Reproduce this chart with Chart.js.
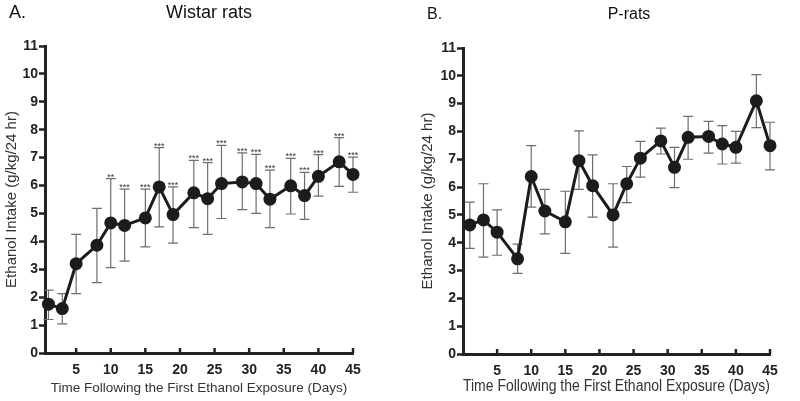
<!DOCTYPE html>
<html>
<head>
<meta charset="utf-8">
<title>Ethanol intake</title>
<script src="https://cdn.jsdelivr.net/npm/chart.js@4"></script>
<style>
  body { margin: 0; background: #fff; }
  #wrap { position: relative; width: 800px; height: 401px; }
  canvas { position: absolute; top: 0; }
</style>
</head>
<body>
<div id="wrap">
  <canvas id="chartA" width="400" height="401" style="left:0"></canvas>
  <canvas id="chartB" width="400" height="401" style="left:400px"></canvas>
</div>
<script>
// days on which intake was measured (same for both groups)
const days = [1, 3, 5, 8, 10, 12, 15, 17, 19, 22, 24, 26, 29, 31, 33, 36, 38, 40, 43, 45];

// Wistar rats
const wistarMean  = [1.75, 1.59, 3.20, 3.86, 4.66, 4.57, 4.84, 5.95, 4.96, 5.74, 5.53, 6.07, 6.13, 6.07, 5.51, 5.99, 5.64, 6.33, 6.85, 6.40];
const wistarUpper = [2.25, 2.13, 4.25, 5.18, 6.25, 5.87, 5.87, 7.36, 5.95, 6.90, 6.82, 7.44, 7.17, 7.12, 6.55, 6.97, 6.47, 7.11, 7.72, 7.02];
const wistarLower = [1.20, 1.04, 2.13, 2.52, 3.06, 3.29, 3.80, 4.52, 3.94, 4.49, 4.25, 4.82, 5.14, 5.00, 4.49, 4.98, 4.79, 5.62, 5.97, 5.76];
const wistarStars = ['', '', '', '', '**', '***', '***', '***', '***', '***', '***', '***', '***', '***', '***', '***', '***', '***', '***', '***'];

// P-rats
const pMean  = [4.64, 4.82, 4.38, 3.42, 6.38, 5.14, 4.75, 6.95, 6.05, 5.00, 6.12, 7.04, 7.66, 6.71, 7.79, 7.82, 7.55, 7.43, 9.10, 7.49];
const pUpper = [5.46, 6.12, 5.18, 3.95, 7.49, 5.92, 5.85, 8.02, 7.16, 6.12, 6.74, 7.64, 8.12, 7.43, 8.54, 8.36, 8.21, 8.00, 10.04, 8.33];
const pLower = [3.80, 3.48, 3.55, 2.90, 5.28, 4.32, 3.62, 5.92, 4.92, 3.84, 5.44, 6.36, 7.19, 5.98, 7.00, 7.22, 6.83, 6.86, 8.14, 6.62];
const pStars = days.map(() => '');

// tick labels
const yTicks = [0, 1, 2, 3, 4, 5, 6, 7, 8, 9, 10, 11];
const xTicks = [5, 10, 15, 20, 25, 30, 35, 40, 45];

const ink = '#1c1c1c';
const axisInk = '#222';
const tickFont = { family: '"Liberation Sans Narrow", "Liberation Sans", Arial', weight: 'bold', size: 14 };

// error bars, significance marks and inward x ticks
const errorBars = {
  id: 'errorBars',
  beforeDatasetsDraw(chart, args, opts) {
    const { ctx, scales: { x, y } } = chart;
    ctx.save();
    ctx.strokeStyle = '#6e6e6e';
    ctx.lineWidth = 1.2;
    days.forEach((d, i) => {
      const px = x.getPixelForValue(d);
      const top = y.getPixelForValue(opts.upper[i]);
      const bot = y.getPixelForValue(opts.lower[i]);
      ctx.beginPath();
      ctx.moveTo(px, top); ctx.lineTo(px, bot);
      ctx.moveTo(px - 5, top); ctx.lineTo(px + 5, top);
      ctx.moveTo(px - 5, bot); ctx.lineTo(px + 5, bot);
      ctx.stroke();
    });
    ctx.restore();
  },
  afterDraw(chart, args, opts) {
    const { ctx, scales: { x, y } } = chart;
    ctx.save();
    ctx.fillStyle = '#333';
    ctx.font = '9px "Liberation Sans", Arial';
    ctx.textAlign = 'center';
    ctx.textBaseline = 'alphabetic';
    days.forEach((d, i) => {
      if (!opts.stars[i]) return;
      ctx.fillText(opts.stars[i], x.getPixelForValue(d), y.getPixelForValue(opts.upper[i]) + 1);
    });
    // x ticks point up into the plot
    ctx.strokeStyle = axisInk;
    ctx.lineWidth = 2.5;
    const base = y.getPixelForValue(0);
    xTicks.forEach(v => {
      const px = x.getPixelForValue(v);
      ctx.beginPath();
      ctx.moveTo(px, base);
      ctx.lineTo(px, base - 5);
      ctx.stroke();
    });
    // panel letter and title
    const t = opts.text;
    ctx.fillStyle = '#111';
    ctx.textBaseline = 'middle';
    ctx.font = t.size + 'px "Liberation Sans", Arial';
    ctx.textAlign = 'left';
    ctx.fillText(t.letter, t.letterX, t.y);
    ctx.textAlign = 'center';
    ctx.fillText(t.title, t.titleX, t.y);
    ctx.restore();
  }
};

function makeChart(id, cfg) {
  return new Chart(document.getElementById(id), {
    type: 'line',
    data: {
      datasets: [{
        data: days.map((d, i) => ({ x: d, y: cfg.mean[i] })),
        borderColor: ink,
        backgroundColor: ink,
        borderWidth: 3,
        pointRadius: 5,
        pointBackgroundColor: ink,
        pointBorderColor: ink,
        tension: 0,
        clip: false
      }]
    },
    options: {
      responsive: false,
      animation: false,
      layout: { padding: cfg.padding },
      plugins: {
        legend: { display: false },
        tooltip: { enabled: false },
        errorBars: { upper: cfg.upper, lower: cfg.lower, stars: cfg.stars, text: cfg.text }
      },
      scales: {
        x: {
          type: 'linear',
          min: cfg.xMin,
          max: 45,
          afterBuildTicks: s => { s.ticks = xTicks.map(v => ({ value: v })); },
          afterFit: s => { s.height = cfg.xHeight; },
          ticks: { font: tickFont, color: axisInk, padding: 1, maxRotation: 0 },
          grid: { display: false },
          border: { display: true, width: 3, color: axisInk },
          title: {
            display: true,
            text: 'Time Following the First Ethanol Exposure (Days)',
            font: { family: '"Liberation Sans", Arial', size: cfg.xTitleSize },
            color: '#333',
            padding: { top: 0, bottom: 5 }
          }
        },
        y: {
          min: 0,
          max: 11,
          afterBuildTicks: s => { s.ticks = yTicks.map(v => ({ value: v })); },
          afterFit: s => { s.width = cfg.yWidth; },
          ticks: { font: tickFont, color: axisInk, padding: 1 },
          grid: { display: true, drawOnChartArea: false, drawTicks: true, tickLength: 6, tickColor: axisInk, tickWidth: 2.5 },
          border: { display: true, width: 3, color: axisInk },
          title: {
            display: true,
            text: 'Ethanol Intake (g/kg/24 hr)',
            font: { family: '"Liberation Sans", Arial', size: 15 },
            color: '#333',
            padding: { top: 3, bottom: 0 }
          }
        }
      }
    },
    plugins: [errorBars]
  });
}

makeChart('chartA', {
  mean: wistarMean, upper: wistarUpper, lower: wistarLower, stars: wistarStars,
  xMin: 0.5, padding: { top: 46, right: 47, bottom: 0, left: 0 },
  yWidth: 45, xHeight: 48, xTitleSize: 13.5,
  text: { letter: 'A.', title: 'Wistar rats', letterX: 9, titleX: 209, y: 13, size: 18 }
});

makeChart('chartB', {
  mean: pMean, upper: pUpper, lower: pLower, stars: pStars,
  xMin: 0, padding: { top: 48, right: 30, bottom: 0, left: 16 },
  yWidth: 47, xHeight: 47, xTitleSize: 16,
  text: { letter: 'B.', title: 'P-rats', letterX: 27, titleX: 229, y: 15, size: 16 }
});
</script>
</body>
</html>
